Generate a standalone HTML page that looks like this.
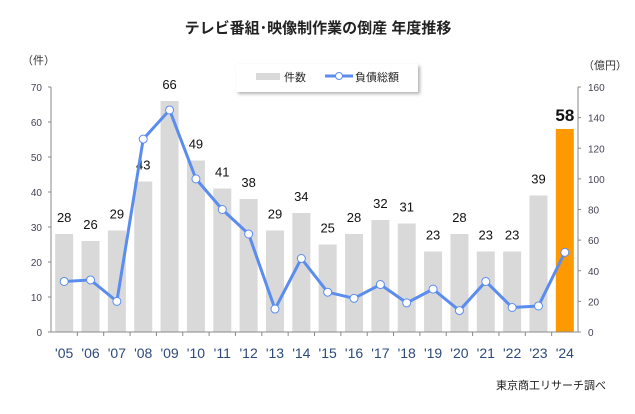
<!DOCTYPE html>
<html><head><meta charset="utf-8"><style>
body{margin:0;background:#fff;font-family:"Liberation Sans","Noto Sans CJK JP",sans-serif}
svg text{font-family:"Liberation Sans","Noto Sans CJK JP",sans-serif}
</style></head><body>
<svg id="c" width="635" height="409" xmlns="http://www.w3.org/2000/svg">
<defs><filter id="sh" x="-10%" y="-20%" width="130%" height="160%"><feDropShadow dx="2" dy="2" stdDeviation="1.5" flood-color="#000" flood-opacity="0.3"/></filter></defs>
<text x="318" y="33" text-anchor="middle" font-size="15" font-weight="bold" fill="#222">テレビ番組･映像制作業の倒産 年度推移</text>
<text x="22" y="64" font-size="11" fill="#333">（件）</text>
<text x="583" y="69" font-size="11" fill="#333">（億円）</text>
<g>
<rect x="236" y="64" width="182" height="28" fill="#fff" filter="url(#sh)"/>
<rect x="256" y="73" width="24" height="7" fill="#d9d9d9"/>
<text x="284" y="81" font-size="11" fill="#222">件数</text>
<line x1="325" y1="76" x2="353" y2="76" stroke="#5b8def" stroke-width="3"/>
<circle cx="339" cy="76" r="3.5" fill="#fff" stroke="#5b8def" stroke-width="1"/>
<text x="355" y="81" font-size="11" fill="#222">負債総額</text>
</g>
<text x="606" y="389" text-anchor="end" font-size="11" fill="#222">東京商工リサーチ調べ</text>
<g id="plot"></g>
</svg>
<script>
const categories=["'05","'06","'07","'08","'09","'10","'11","'12","'13","'14","'15","'16","'17","'18","'19","'20","'21","'22","'23","'24"];
const counts=[28,26,29,43,66,49,41,38,29,34,25,28,32,31,23,28,23,23,39,58];
const debt=[33,34,20,126,145,100,80,64,15,48,26,22,31,19,28,14,33,16,17,52];
const leftTicks=[0,10,20,30,40,50,60,70];
const rightTicks=[0,20,40,60,80,100,120,140,160];
const NS="http://www.w3.org/2000/svg";
const g=document.getElementById('plot');
const X0=51,X1=578,Y0=332,YT=87;
const step=(X1-X0)/categories.length;
const xc=i=>X0+step*(i+0.5);
const yL=v=>Y0-(v/70)*(Y0-YT);
const yR=v=>Y0-(v/160)*(Y0-YT);
function mk(t,a){const e=document.createElementNS(NS,t);for(const k in a)e.setAttribute(k,a[k]);g.appendChild(e);return e;}
leftTicks.forEach(v=>{const t=mk('text',{x:X0-9,y:yL(v)+4,'text-anchor':'end','font-size':10,fill:'#445'});t.textContent=v;


mk('line',{x1:X0-3,x2:X0,y1:yL(v),y2:yL(v),stroke:'#888'});});
rightTicks.forEach(v=>{const t=mk('text',{x:X1+10,y:yR(v)+4,'font-size':10,fill:'#445'});t.textContent=v;


mk('line',{x1:X1,x2:X1+3,y1:yR(v),y2:yR(v),stroke:'#888'});});
categories.forEach((c,i)=>{
const last=i===categories.length-1;
const r=mk('rect',{x:xc(i)-9,y:yL(counts[i]),width:18,height:Y0-yL(counts[i]),fill:last?'#ff9900':'#d9d9d9'});


const t=mk('text',{x:xc(i),y:yL(counts[i])-(last?8:12),'text-anchor':'middle','font-size':last?17:13,'font-weight':last?'bold':'normal',fill:'#111'});t.textContent=counts[i];


const l=mk('text',{x:xc(i),y:358,'text-anchor':'middle','font-size':14,fill:'#2d4a7a'});l.textContent=c;


if(i>0)mk('line',{x1:X0+step*i,x2:X0+step*i,y1:Y0,y2:Y0+4,stroke:'#888'});
});
mk('line',{x1:X0,x2:X0,y1:YT,y2:Y0,stroke:'#888'});
mk('line',{x1:X1,x2:X1,y1:YT,y2:Y0,stroke:'#888'});
mk('line',{x1:X0,x2:X1,y1:Y0,y2:Y0,stroke:'#888'});
const p=mk('polyline',{points:debt.map((v,i)=>xc(i)+','+yR(v)).join(' '),fill:'none',stroke:'#5b8def','stroke-width':3,'stroke-linejoin':'round'});


debt.forEach((v,i)=>{const c=mk('circle',{cx:xc(i),cy:yR(v),r:4,fill:'#fff',stroke:'#5b8def','stroke-width':1});

});
</script>
</body></html>
